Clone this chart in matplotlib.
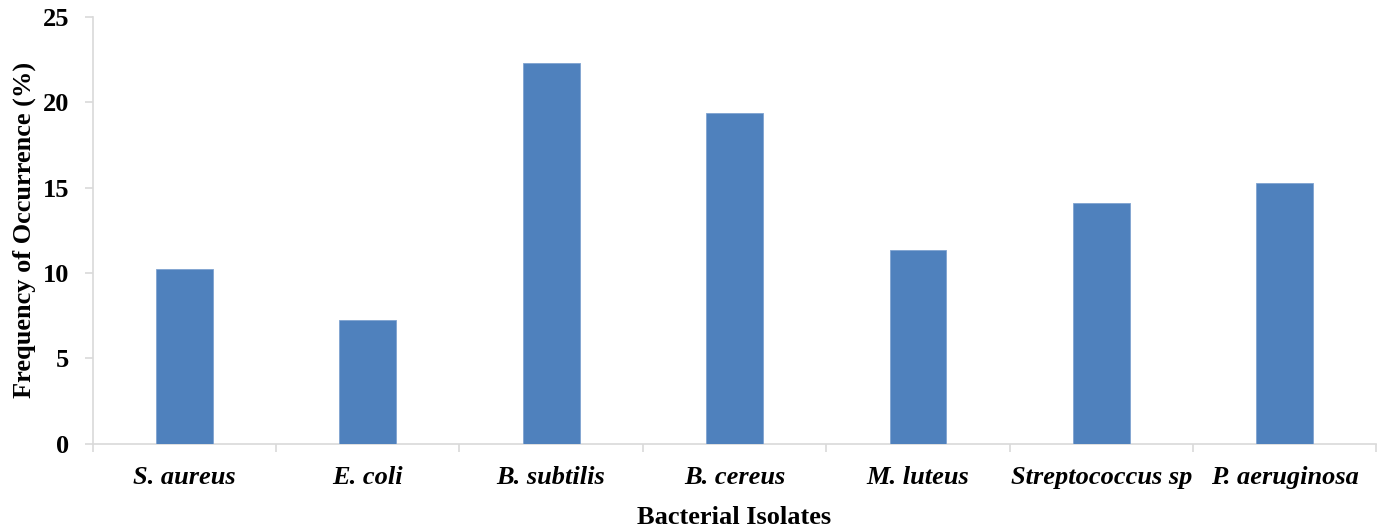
import matplotlib.pyplot as plt

plt.rcParams['font.family'] = ['Liberation Serif', 'DejaVu Serif']
plt.rcParams['font.weight'] = 'bold'

isolates = ['S. aureus', 'E. coli', 'B. subtilis', 'B. cereus', 'M. luteus',
            'Streptococcus sp', 'P. aeruginosa']
frequency = [10.25, 7.26, 22.3, 19.35, 11.36, 14.08, 15.25]

fig, ax = plt.subplots(figsize=(13.82, 5.29), dpi=100)
fig.subplots_adjust(left=0.067, right=0.996, top=0.968, bottom=0.161)

x = range(len(isolates))
ax.bar(x, frequency, width=0.31, color='#4F81BD', edgecolor='#7FA3D0', linewidth=0.6, zorder=3)

ax.set_xlim(-0.5, len(isolates) - 0.5)
ax.set_ylim(0, 25)
ax.set_yticks([0, 5, 10, 15, 20, 25])
ax.set_yticklabels(['0', '5', '10', '15', '20', '25'], fontsize=19, fontweight='bold')

ax.set_xticks(list(x))
ax.set_xticklabels(isolates, fontsize=19, fontweight='bold', style='italic')
ax.set_xticks([i - 0.5 for i in range(len(isolates) + 1)], minor=True)
ax.tick_params(axis='x', which='major', length=0, pad=16)
ax.tick_params(axis='x', which='minor', length=6, color='#D9D9D9', width=1.2)
ax.tick_params(axis='y', length=6, color='#D9D9D9', width=1.2, pad=11)

for side in ['top', 'right']:
    ax.spines[side].set_visible(False)
for side in ['left', 'bottom']:
    ax.spines[side].set_color('#D9D9D9')
    ax.spines[side].set_linewidth(1.2)

ax.set_xlabel('Bacterial Isolates', fontsize=19, fontweight='bold', labelpad=12)
ax.set_ylabel('Frequency of Occurrence (%)', fontsize=19, fontweight='bold', labelpad=5)

fig.savefig('out.png', dpi=100)
